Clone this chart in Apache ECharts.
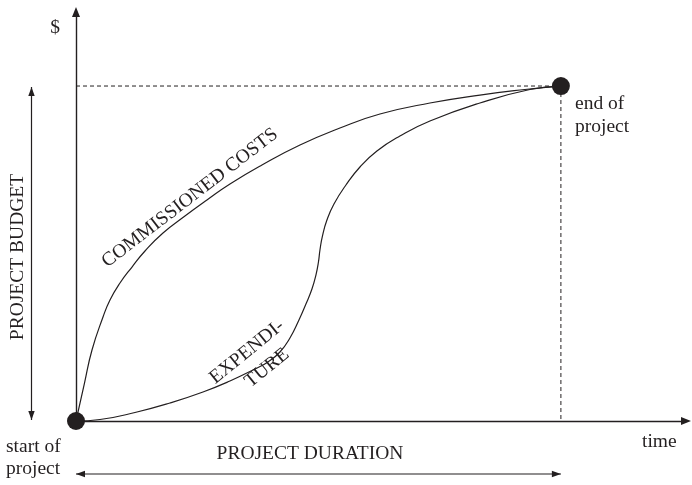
<!DOCTYPE html>
<html><head><meta charset="utf-8">
<script src="https://cdn.jsdelivr.net/npm/echarts@6/dist/echarts.min.js"></script>
<style>html,body{margin:0;padding:0;background:#fff}#c{width:692px;height:485px}</style>
</head><body><div id="c"></div>
<script>
// Time axis: 0 = start of project, 100 = end of project
// Money axis: 0 = nothing, 100 = project budget
const commissionedX = [0, 1.75, 3.30, 5.57, 7.01, 9.07, 11.55, 14.23, 17.94, 22.47, 27.01, 31.75, 38.35, 46.19, 54.43, 62.68, 72.99, 83.30, 92.58, 100];
const commissionedY = [0, 11.34, 21.19, 31.04, 36.12, 41.19, 45.97, 50.75, 56.12, 61.19, 65.97, 70.75, 76.42, 82.39, 87.46, 91.64, 94.93, 97.31, 98.96, 100];
const expenditureX = [0, 4.95, 12.58, 19.38, 26.19, 31.75, 36.91, 39.59, 42.06, 44.12, 45.98, 47.42, 48.66, 49.48, 50.00, 50.31, 50.82, 51.75, 53.20, 55.67, 58.56, 62.06, 66.80, 72.99, 83.30, 93.61, 100];
const expenditureY = [0, 0.45, 2.69, 5.37, 8.66, 11.94, 15.52, 17.61, 20.60, 24.78, 30.15, 34.93, 39.40, 43.58, 47.46, 51.04, 55.22, 60.00, 64.78, 70.45, 75.82, 80.60, 85.07, 89.55, 94.93, 98.96, 100];
const milestoneX = [0, 100];
const milestoneY = [0, 100];
const budgetLineX = [0, 100];
const budgetLineY = [100, 100];
const endLineX = [100, 100];
const endLineY = [100, 0];
const labels = {
  money: '$', time: 'time', start: ['start of', 'project'], end: ['end of', 'project'],
  budget: 'PROJECT BUDGET', duration: 'PROJECT DURATION',
  commissioned: 'COMMISSIONED COSTS', expenditure: ['EXPENDI-', 'TURE']
};

const INK = '#231f20';
const FONT = '19.5px "Liberation Serif", "Times New Roman", serif';
const pairs = (xs, ys) => xs.map((x, i) => [x, ys[i]]);

const chart = echarts.init(document.getElementById('c'), null, {renderer: 'canvas'});
const axisCommon = {
  type: 'value', splitLine: {show: false}, axisTick: {show: false}, axisLabel: {show: false},
  axisLine: {show: true, onZero: false, symbol: ['none', 'triangle'], symbolSize: [8, 10], lineStyle: {color: INK, width: 1.4}}
};
chart.setOption({
  animation: false,
  backgroundColor: '#fff',
  grid: {left: 76, right: 6, top: 12, bottom: 64},
  xAxis: Object.assign({}, axisCommon, {min: 0, max: 125.8}),
  yAxis: Object.assign({}, axisCommon, {min: 0, max: 122.1}),
  series: [
    {type: 'line', data: pairs(budgetLineX, budgetLineY), symbol: 'none', lineStyle: {color: INK, width: 1, type: [4, 3]}, z: 1},
    {type: 'line', data: pairs(endLineX, endLineY), symbol: 'none', lineStyle: {color: INK, width: 1, type: [4, 3]}, z: 1},
    {type: 'line', data: pairs(commissionedX, commissionedY), symbol: 'none', smooth: 0.5, lineStyle: {color: INK, width: 1.2}, z: 2},
    {type: 'line', data: pairs(expenditureX, expenditureY), symbol: 'none', smooth: 0.5, lineStyle: {color: INK, width: 1.2}, z: 2},
    {type: 'scatter', data: pairs(milestoneX, milestoneY), symbol: 'circle', symbolSize: 18, itemStyle: {color: INK, opacity: 1}, z: 5}
  ]
});

const p0 = chart.convertToPixel({gridIndex: 0}, [0, 0]);
const p1 = chart.convertToPixel({gridIndex: 0}, [100, 100]);
function txt(text, x, y, rot, align) {
  return {type: 'text', x: x, y: y, rotation: (rot || 0) * Math.PI / 180,
    style: {text: text, font: FONT, fill: INK, align: align || 'left', verticalAlign: 'middle'}, z: 10};
}
function head(tx, ty, dx, dy) {
  const L = 9, W = 3.2, nx = -dy, ny = dx;
  return {type: 'polygon', shape: {points: [[tx, ty], [tx - dx * L + nx * W, ty - dy * L + ny * W], [tx - dx * L - nx * W, ty - dy * L - ny * W]]},
    style: {fill: INK}, z: 10};
}
const ax = 31.5, ay = 474;
chart.setOption({graphic: [
  txt(labels.money, 55, 28, 0, 'center'),
  txt(labels.time, 642, 441.5),
  txt(labels.start[0], 6, 446.5), txt(labels.start[1], 6, 468.5),
  txt(labels.end[0], 575, 103.5), txt(labels.end[1], 575, 126.5),
  txt(labels.duration, 310, 453.5, 0, 'center'),
  txt(labels.budget, 17.5, 257, 90, 'center'),
  txt(labels.commissioned, 190, 198, 37.5, 'center'),
  txt(labels.expenditure[0], 247, 352, 39, 'center'),
  txt(labels.expenditure[1], 267, 368, 39, 'center'),
  {type: 'line', shape: {x1: ax, y1: p1[1] + 1, x2: ax, y2: p0[1] - 1}, style: {stroke: INK, lineWidth: 1.2}, z: 10},
  head(ax, p1[1] + 1, 0, -1), head(ax, p0[1] - 1, 0, 1),
  {type: 'line', shape: {x1: p0[0], y1: ay, x2: p1[0], y2: ay}, style: {stroke: INK, lineWidth: 1.2}, z: 10},
  head(p0[0], ay, -1, 0), head(p1[0], ay, 1, 0)
]});
</script>
</body></html>
